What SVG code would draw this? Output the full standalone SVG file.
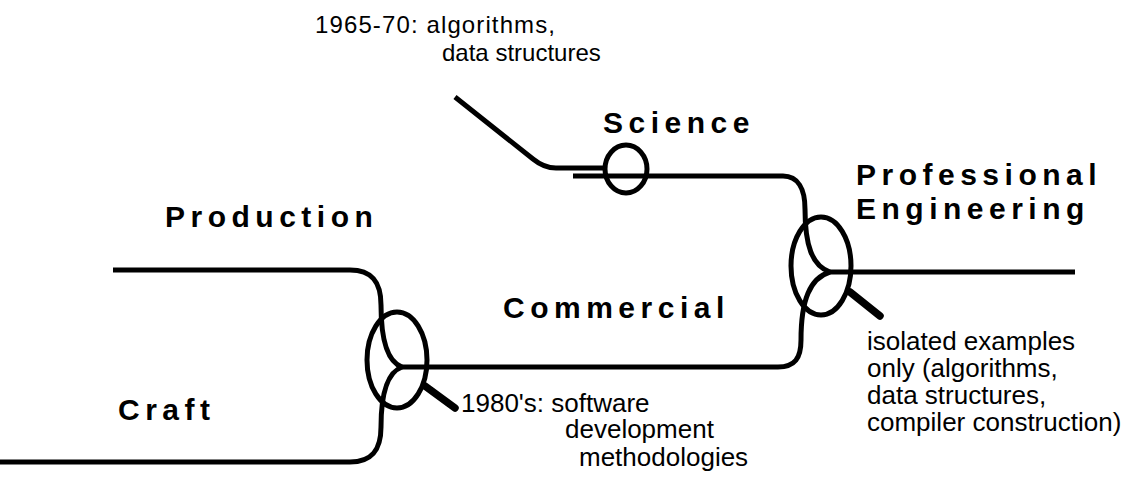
<svg xmlns="http://www.w3.org/2000/svg" width="1139" height="478" viewBox="0 0 1139 478">
<style>
.ln{fill:none;stroke:#000;stroke-width:5;stroke-linecap:butt;stroke-linejoin:round}
.hd{fill:none;stroke:#000;stroke-width:7.5;stroke-linecap:round}
.b{font-family:"Liberation Sans",Arial,sans-serif;font-weight:bold;font-size:30px;letter-spacing:5.5px;fill:#000}
.t{font-family:"Liberation Sans",Arial,sans-serif;font-size:26px;fill:#000}
.s{font-family:"Liberation Sans",Arial,sans-serif;font-size:24px;fill:#000}
</style>
<rect width="1139" height="478" fill="#fff"/>
<g id="connectors">
<path class="ln" d="M113 270 H350 C372 270 381 282 381 305 C381 340 388 362 402 367"/>
<path class="ln" d="M0 462 H350 C372 462 381 450 381 427 C381 392 388 372 402 367"/>
<path class="ln" d="M402 367 H778 C795 367 801 358 801 340 C801 300 810 278 830 272"/>
<path class="ln" d="M455 97 L533 159 Q544 168 556 168 H604"/>
<path class="ln" d="M573 176 H783 C798 176 805 189 805 209 C805 245 812 266 830 272"/>
<path class="ln" d="M830 272 H1075"/>
<path class="hd" d="M425 386 L455 408"/>
<path class="hd" d="M850 292 L880 316"/>
</g>
<g id="node-left-junction"><ellipse class="ln" cx="397" cy="360" rx="30" ry="48"/></g>
<g id="node-right-junction"><ellipse class="ln" cx="821" cy="266" rx="30" ry="49"/></g>
<g id="node-science-circle"><ellipse class="ln" cx="626" cy="169" rx="21" ry="24"/></g>
<g id="node-top-note">
<text class="s" x="315" y="33" textLength="240" lengthAdjust="spacing">1965-70: algorithms,</text>
<text class="s" x="442" y="61">data structures</text>
</g>
<g id="node-science"><text class="b" x="603" y="133">Science</text></g>
<g id="node-production"><text class="b" x="165" y="227">Production</text></g>
<g id="node-professional">
<text class="b" x="856" y="185">Professional</text>
<text class="b" x="856" y="219">Engineering</text>
</g>
<g id="node-commercial"><text class="b" x="503" y="318">Commercial</text></g>
<g id="node-craft"><text class="b" x="118" y="420">Craft</text></g>
<g id="node-1980">
<text class="t" x="461" y="412">1980's: software</text>
<text class="t" x="565" y="438">development</text>
<text class="t" x="579" y="466">methodologies</text>
</g>
<g id="node-isolated">
<text class="t" x="867" y="350">isolated examples</text>
<text class="t" x="867" y="377">only (algorithms,</text>
<text class="t" x="867" y="404">data structures,</text>
<text class="t" x="867" y="431">compiler construction)</text>
</g>
</svg>
